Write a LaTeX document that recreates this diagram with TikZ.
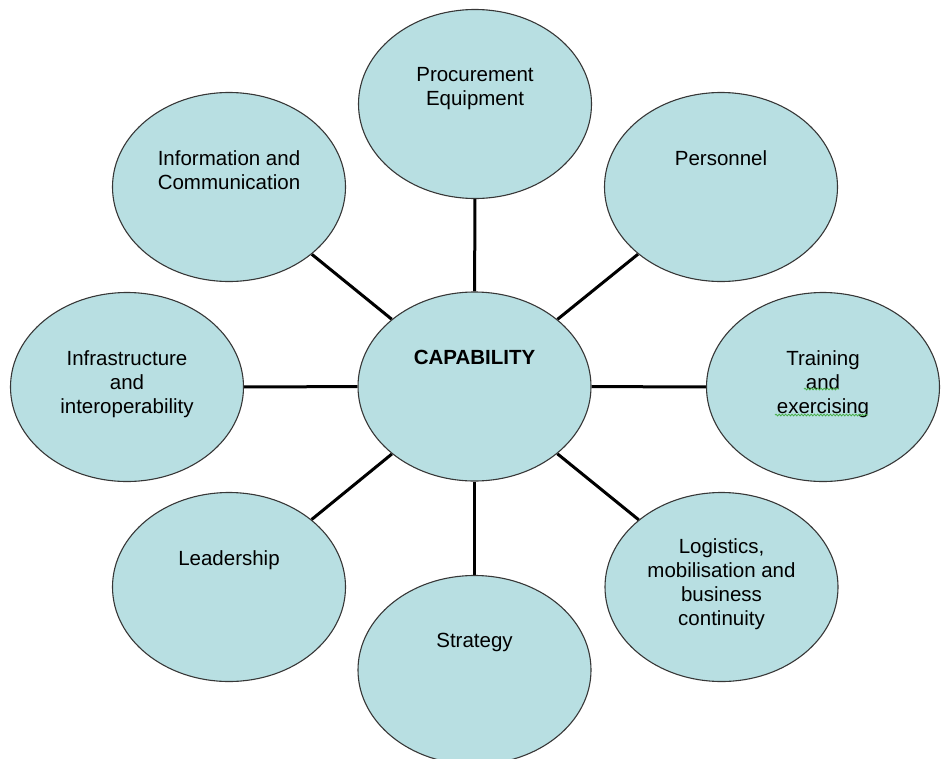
\documentclass[tikz,border=0pt]{standalone}
\usepackage{fontspec}
\setmainfont{Liberation Sans}
\usetikzlibrary{shapes.geometric,decorations.pathmorphing,backgrounds}

\definecolor{ccblue}{RGB}{184,223,226}
\definecolor{ccborder}{RGB}{55,55,55}
\definecolor{ccsquiggle}{RGB}{70,175,70}

\begin{document}
\begin{tikzpicture}[x=1pt, y=-1pt,
    bubble/.style={ellipse, draw=ccborder, line width=1.1pt, fill=ccblue,
      minimum width=233pt, minimum height=189pt, inner sep=0pt},
    words/.style={anchor=north, align=center, inner sep=0pt,
      font=\fontsize{20.5}{24}\selectfont},
    spoke/.style={line width=3pt, black},
    squiggle/.style={ccsquiggle, line width=0.8pt, decorate,
      decoration={snake, amplitude=0.9pt, segment length=3.2pt}}]

  % Frame
  \useasboundingbox (0,0) rectangle (944,758);
  \clip (0,0) rectangle (944,758);

  % Centre
  \node[bubble] (cap) at (474.5,386.5) {};
  \node[words] (cap-t) at ([yshift=37pt]cap.center) {\textbf{CAPABILITY}};

  % Outer ring
  \node[bubble] (proc) at (475,104) {};
  \node[bubble] (pers) at (721,187) {};
  \node[bubble] (train) at (823,387) {};
  \node[bubble] (logi) at (721.5,587) {};
  \node[bubble] (strat) at (474.5,670) {};
  \node[bubble] (lead) at (229,587) {};
  \node[bubble] (infra) at (127,387) {};
  \node[bubble] (info) at (229,187) {};

  % Labels
  \node[words] (proc-t) at ([yshift=37pt]proc.center) {Procurement\\Equipment};
  \node[words] (pers-t) at ([yshift=37pt]pers.center) {Personnel};
  \node[words] (train-t) at ([yshift=37pt]train.center) {Training\\and\\exercising};
  \node[words] (logi-t) at ([yshift=49pt]logi.center) {Logistics,\\mobilisation and\\business\\continuity};
  \node[words] (strat-t) at ([yshift=37pt]strat.center) {Strategy};
  \node[words] (lead-t) at ([yshift=37pt]lead.center) {Leadership};
  \node[words] (infra-t) at ([yshift=37pt]infra.center) {Infrastructure\\and\\interoperability};
  \node[words] (info-t) at ([yshift=37pt]info.center) {Information and\\Communication};

  % Spell check marks
  \draw[squiggle] (804,389) -- (839,389);
  \draw[squiggle] (775,415) -- (868,415);

  % Spokes
  \begin{scope}[on background layer]
    \foreach \n in {proc,pers,train,logi,strat,lead,infra,info}
      \draw[spoke] (cap) -- (\n);
  \end{scope}

\end{tikzpicture}
\end{document}
